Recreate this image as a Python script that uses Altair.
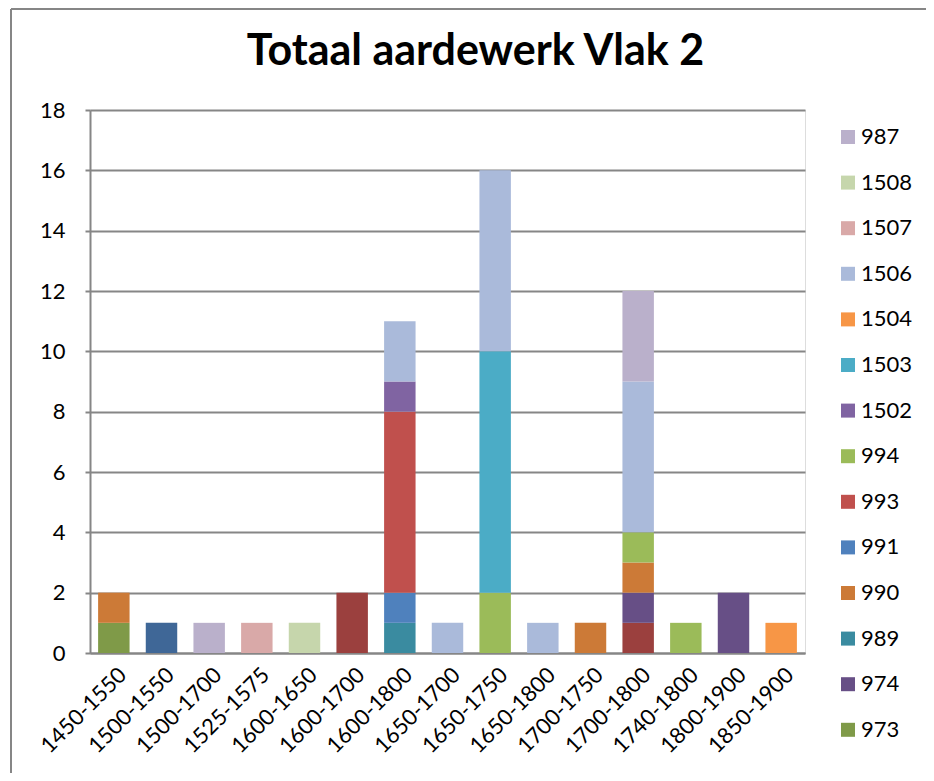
import altair as alt
import pandas as pd

categories = ["1450-1550", "1500-1550", "1500-1700", "1525-1575", "1600-1650",
              "1600-1700", "1600-1800", "1650-1700", "1650-1750", "1650-1800",
              "1700-1750", "1700-1800", "1740-1800", "1800-1900", "1850-1900"]

# series in stacking order (bottom -> top); the first two are not shown in the legend
series_names = ["970", "972", "973", "974", "989", "990", "991", "993", "994",
                "1502", "1503", "1504", "1506", "1507", "1508", "987"]
series_colors = ["#3F6797", "#9B403E", "#7F9A48", "#674F86", "#3A8BA0", "#CC7A37",
                 "#4F81BD", "#C0504D", "#9BBB59", "#8064A2", "#4BACC6", "#F79646",
                 "#AABADA", "#D9A9A8", "#C6D6AC", "#BAB0CB"]

s970 = [0, 1, 0, 0, 0, 0, 0, 0, 0, 0, 0, 0, 0, 0, 0]
s972 = [0, 0, 0, 0, 0, 2, 0, 0, 0, 0, 0, 1, 0, 0, 0]
s973 = [1, 0, 0, 0, 0, 0, 0, 0, 0, 0, 0, 0, 0, 0, 0]
s974 = [0, 0, 0, 0, 0, 0, 0, 0, 0, 0, 0, 1, 0, 2, 0]
s989 = [0, 0, 0, 0, 0, 0, 1, 0, 0, 0, 0, 0, 0, 0, 0]
s990 = [1, 0, 0, 0, 0, 0, 0, 0, 0, 0, 1, 1, 0, 0, 0]
s991 = [0, 0, 0, 0, 0, 0, 1, 0, 0, 0, 0, 0, 0, 0, 0]
s993 = [0, 0, 0, 0, 0, 0, 6, 0, 0, 0, 0, 0, 0, 0, 0]
s994 = [0, 0, 0, 0, 0, 0, 0, 0, 2, 0, 0, 1, 1, 0, 0]
s1502 = [0, 0, 0, 0, 0, 0, 1, 0, 0, 0, 0, 0, 0, 0, 0]
s1503 = [0, 0, 0, 0, 0, 0, 0, 0, 8, 0, 0, 0, 0, 0, 0]
s1504 = [0, 0, 0, 0, 0, 0, 0, 0, 0, 0, 0, 0, 0, 0, 1]
s1506 = [0, 0, 0, 0, 0, 0, 2, 1, 6, 1, 0, 5, 0, 0, 0]
s1507 = [0, 0, 0, 1, 0, 0, 0, 0, 0, 0, 0, 0, 0, 0, 0]
s1508 = [0, 0, 0, 0, 1, 0, 0, 0, 0, 0, 0, 0, 0, 0, 0]
s987 = [0, 0, 1, 0, 0, 0, 0, 0, 0, 0, 0, 3, 0, 0, 0]

legend_order = ["987", "1508", "1507", "1506", "1504", "1503", "1502",
                "994", "993", "991", "990", "989", "974", "973"]

all_values = [s970, s972, s973, s974, s989, s990, s991, s993, s994,
              s1502, s1503, s1504, s1506, s1507, s1508, s987]

rows = []
for si, (name, vals) in enumerate(zip(series_names, all_values)):
    for ci, cat in enumerate(categories):
        if vals[ci] > 0:
            rows.append({"periode": cat, "serie": name, "aantal": vals[ci], "volgorde": si})
df = pd.DataFrame(rows)

FONT = "Lato"
W, H = 715, 543
PL, PT, PR, PB = 82, 102, 121, 120

bars = alt.Chart(df).mark_bar().encode(
    x=alt.X("periode:N", sort=categories,
            scale=alt.Scale(paddingInner=0.34, paddingOuter=0.17),
            axis=alt.Axis(title=None, labelAngle=-45, labelAlign="right",
                          labelBaseline="middle", labelFontSize=22, labelFont=FONT,
                          labelColor="black", domainColor="#868686", domainWidth=2,
                          ticks=False, labelPadding=18, labelOffset=9, grid=False)),
    y=alt.Y("aantal:Q", stack="zero",
            scale=alt.Scale(domain=[0, 18], nice=False),
            axis=alt.Axis(title=None, values=list(range(0, 19, 2)), labelFontSize=22,
                          labelFont=FONT, labelColor="black", domainColor="#868686",
                          domainWidth=2, tickColor="#868686", tickSize=5, tickWidth=2,
                          labelPadding=20, gridColor="#868686", gridWidth=2)),
    color=alt.Color("serie:N",
                    scale=alt.Scale(domain=series_names, range=series_colors),
                    legend=alt.Legend(title=None, values=legend_order, orient="none",
                                      legendX=747, legendY=16, symbolType="square",
                                      symbolSize=196, symbolStrokeWidth=0,
                                      labelFontSize=22, labelFont=FONT,
                                      labelColor="black", rowPadding=23.6,
                                      labelOffset=2)),
    order=alt.Order("volgorde:Q", sort="ascending"),
)

border = alt.Chart(alt.Data(values=[{}])).mark_rule(color="#868686", strokeWidth=2).encode(
    x=alt.value(-PL + 3), y=alt.value(-PT + 1), y2=alt.value(H + PB)
)
border_top = alt.Chart(alt.Data(values=[{}])).mark_rule(color="#868686", strokeWidth=2).encode(
    x=alt.value(-PL + 3), x2=alt.value(W + PR), y=alt.value(-PT + 1)
)

chart = alt.layer(border, border_top, bars).properties(
    width=W, height=H,
    title=alt.TitleParams("Totaal aardewerk Vlak 2", fontSize=43, fontWeight="bold",
                          font=FONT, color="black", anchor="middle", frame="group",
                          baseline="alphabetic", dx=28, offset=-100),
    autosize=alt.AutoSizeParams(type="none"),
    padding={"left": PL, "top": PT, "right": PR, "bottom": PB},
).configure_view(stroke=None).configure(background="white")

chart.save("out.html", embed_options={"renderer": "svg", "actions": False})
